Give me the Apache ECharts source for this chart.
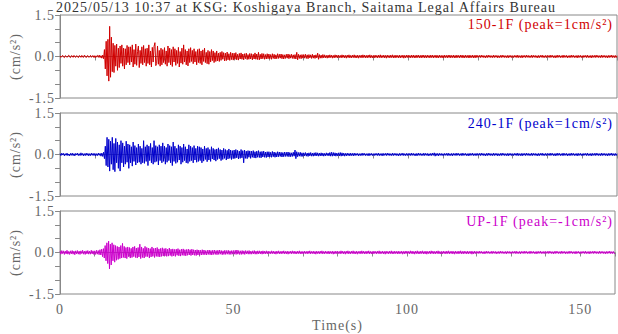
<!DOCTYPE html>
<html>
<head>
<meta charset="utf-8">
<script src="https://cdn.jsdelivr.net/npm/echarts@6/dist/echarts.min.js"></script>
<style>
  html, body { margin: 0; padding: 0; background: #fff; }
  #chart { width: 618px; height: 334px; }
  #chart svg text { letter-spacing: 1px; }
</style>
</head>
<body>
<div id="chart"></div>
<script>
// sample spacing of the traces (s), one row = 10 s
const dt = 0.25;

const accel150 = [
  0.02,-0.03,0.01,0.04,-0.02,-0.04,0.03,0.01,-0.03,0.02,0.05,-0.02,-0.04,0.03,0.02,-0.03,0.04,-0.01,-0.03,0.03,0.01,-0.04,0.03,0.02,-0.03,0.04,-0.02,-0.03,0.05,0.01,-0.04,0.02,0.03,-0.03,-0.01,0.04,-0.03,0.02,0.03,-0.04,
  0.03,-0.04,0.02,0.04,-0.03,0.05,-0.04,0.03,-0.06,0.05,-0.08,0.25,-0.45,0.55,-0.70,0.62,-0.89,1.09,-0.75,0.70,-0.55,0.48,-0.58,0.40,-0.35,0.45,-0.50,0.30,-0.40,0.38,-0.25,0.42,-0.35,0.30,-0.45,0.28,-0.30,0.40,-0.22,0.35,
  -0.30,0.35,-0.20,0.42,-0.38,0.25,-0.28,0.45,-0.32,0.18,0.38,-0.40,0.22,-0.25,0.35,-0.30,0.40,-0.22,0.28,-0.35,0.30,-0.25,0.42,-0.30,0.20,-0.38,0.33,-0.20,0.36,0.50,-0.33,-0.25,0.38,-0.28,0.22,-0.35,0.30,-0.30,0.25,-0.22,
  0.32,-0.28,0.20,-0.35,0.38,-0.22,0.30,-0.30,0.25,-0.36,0.35,-0.20,0.28,-0.32,0.22,-0.25,0.33,-0.38,0.18,-0.24,0.30,-0.28,0.42,-0.20,0.25,-0.30,0.20,-0.34,0.28,-0.22,0.32,-0.18,0.22,-0.26,0.28,-0.20,0.18,-0.30,0.25,-0.22,
  0.28,-0.25,0.20,-0.30,0.24,-0.18,0.30,-0.22,0.15,-0.26,0.22,-0.28,0.18,-0.20,0.25,-0.15,0.20,-0.22,0.14,-0.18,0.20,-0.16,0.12,-0.18,0.15,-0.14,0.18,-0.10,0.14,-0.16,0.12,-0.15,0.16,-0.12,0.10,-0.14,0.15,-0.11,0.12,-0.13,
  0.12,-0.10,0.14,-0.12,0.08,-0.13,0.11,-0.09,0.13,-0.10,0.09,-0.12,0.10,-0.08,0.12,-0.11,0.07,-0.10,0.11,-0.09,0.10,-0.12,0.08,-0.09,0.13,-0.10,0.09,-0.11,0.15,-0.12,0.08,-0.09,0.11,-0.08,0.10,-0.10,0.07,-0.09,0.10,-0.08,
  0.09,-0.08,0.07,-0.10,0.10,-0.07,0.08,-0.09,0.06,-0.08,0.10,-0.07,0.08,-0.06,0.09,-0.08,0.07,-0.09,0.06,-0.07,0.08,-0.06,0.09,-0.08,0.07,-0.06,0.08,-0.07,0.06,-0.08,0.07,-0.09,0.15,-0.12,0.08,-0.07,0.06,-0.08,0.07,-0.06,
  0.07,-0.06,0.08,-0.07,0.06,-0.08,0.07,-0.05,0.06,-0.07,0.08,-0.06,0.05,-0.07,0.06,-0.05,0.12,-0.10,0.07,-0.06,0.05,-0.06,0.07,-0.05,0.06,-0.05,0.04,-0.06,0.05,-0.05,0.06,-0.04,0.05,-0.06,0.04,-0.05,0.06,-0.04,0.05,-0.05,
  0.05,-0.04,0.04,-0.05,0.06,-0.04,0.05,-0.05,0.04,-0.06,0.05,-0.04,0.06,-0.05,0.04,-0.05,0.05,-0.04,0.06,-0.05,0.04,-0.05,0.05,-0.06,0.04,-0.04,0.05,-0.05,0.06,-0.04,0.05,-0.05,0.04,-0.05,0.05,-0.04,0.06,-0.05,0.04,-0.05,
  0.04,-0.05,0.05,-0.04,0.04,-0.05,0.05,-0.04,0.06,-0.05,0.04,-0.04,0.05,-0.05,0.04,-0.06,0.05,-0.04,0.04,-0.05,0.05,-0.04,0.06,-0.05,0.04,-0.05,0.05,-0.04,0.04,-0.05,0.05,-0.05,0.04,-0.04,0.05,-0.06,0.04,-0.05,0.05,-0.04,
  0.05,-0.04,0.04,-0.05,0.05,-0.04,0.05,-0.05,0.04,-0.05,0.05,-0.04,0.05,-0.05,0.04,-0.05,0.05,-0.04,0.05,-0.05,0.04,-0.05,0.05,-0.04,0.04,-0.05,0.05,-0.04,0.05,-0.05,0.04,-0.04,0.05,-0.05,0.04,-0.05,0.05,-0.04,0.04,-0.05,
  0.04,-0.05,0.05,-0.04,0.04,-0.05,0.05,-0.04,0.05,-0.05,0.04,-0.04,0.05,-0.05,0.04,-0.05,0.05,-0.04,0.04,-0.05,0.05,-0.04,0.05,-0.05,0.04,-0.05,0.05,-0.04,0.04,-0.05,0.05,-0.05,0.04,-0.04,0.05,-0.05,0.04,-0.05,0.05,-0.04,
  0.04,-0.03,0.04,-0.04,0.05,-0.03,0.04,-0.04,0.03,-0.05,0.04,-0.04,0.05,-0.03,0.04,-0.04,0.03,-0.04,0.05,-0.04,0.04,-0.03,0.04,-0.05,0.03,-0.04,0.04,-0.04,0.05,-0.03,0.04,-0.04,0.03,-0.04,0.04,-0.05,0.04,-0.03,0.04,-0.04,
  0.03,-0.04,0.04,-0.03,0.04,-0.04,0.05,-0.04,0.03,-0.04,0.04,-0.05,0.04,-0.03,0.04,-0.04,0.05,-0.03,0.04,-0.04,0.03,-0.04,0.05,-0.04,0.04,-0.03,0.04,-0.04,0.03,-0.05,0.04,-0.04,0.04,-0.03,0.05,-0.04,0.03,-0.04,0.04,-0.04,
  0.04,-0.03,0.04,-0.04,0.05,-0.03,0.04,-0.04,0.03,-0.05,0.04,-0.04,0.05,-0.03,0.04,-0.04,0.03,-0.04,0.05,-0.04,0.04,-0.03,0.04,-0.05,0.03,-0.04,0.04,-0.04,0.05,-0.03,0.04,-0.04,0.03,-0.04,0.04,-0.05,0.04,-0.03,0.04,-0.04,
  0.03,-0.04,0.04,-0.03,0.04,-0.04,0.05,-0.04,0.03,-0.04,0.04,-0.05,0.04,-0.03,0.04,-0.04,0.05,-0.03,0.04,-0.04,0.03,-0.04,0.05,-0.04,0.04,-0.03,0.04,-0.04,0.03,-0.05,0.04,-0.04,0.04,-0.03,0.05,-0.04,0.03,-0.04,0.04,-0.04,
  0.03
];

const accel240 = [
  0.03,-0.04,0.05,-0.02,0.04,-0.05,0.03,-0.03,0.05,-0.04,0.02,-0.05,0.04,-0.03,0.05,-0.04,0.03,-0.05,0.04,-0.02,0.05,-0.04,0.03,-0.04,0.06,-0.03,0.04,-0.05,0.03,-0.04,0.05,-0.03,0.04,-0.05,0.03,-0.04,0.05,-0.03,0.04,-0.04,
  0.04,-0.05,0.03,-0.04,0.05,-0.03,0.04,-0.06,0.05,-0.07,0.08,-0.15,0.30,-0.40,0.62,-0.45,0.55,-0.60,0.48,-0.35,0.62,-0.55,0.40,-0.62,0.58,-0.30,0.45,-0.50,0.35,-0.60,0.50,-0.30,0.42,-0.45,0.30,-0.35,0.48,-0.28,0.38,-0.50,
  0.35,-0.30,0.28,-0.42,0.45,-0.25,0.32,-0.38,0.25,-0.30,0.38,-0.28,0.30,-0.35,0.22,-0.30,0.50,-0.32,0.28,-0.25,0.35,-0.40,0.30,-0.22,0.40,-0.30,0.25,-0.35,0.50,-0.28,0.32,-0.25,0.28,-0.38,0.35,-0.22,0.30,-0.30,0.42,-0.25,
  0.30,-0.35,0.25,-0.28,0.38,-0.22,0.32,-0.30,0.28,-0.40,0.45,-0.25,0.30,-0.32,0.22,-0.28,0.35,-0.20,0.30,-0.35,0.25,-0.28,0.38,-0.22,0.28,-0.30,0.20,-0.32,0.35,-0.25,0.30,-0.22,0.25,-0.30,0.32,-0.20,0.22,-0.28,0.30,-0.25,
  0.28,-0.22,0.25,-0.30,0.20,-0.24,0.30,-0.18,0.22,-0.26,0.25,-0.20,0.18,-0.25,0.28,-0.16,0.22,-0.20,0.18,-0.24,0.20,-0.18,0.24,-0.15,0.18,-0.22,0.16,-0.18,0.22,-0.14,0.18,-0.20,0.15,-0.16,0.20,-0.14,0.16,-0.18,0.14,-0.15,
  0.16,-0.14,0.18,-0.12,0.15,-0.16,0.12,-0.14,0.18,-0.12,0.14,-0.30,0.16,-0.14,0.12,-0.15,0.14,-0.10,0.13,-0.14,0.12,-0.10,0.14,-0.12,0.10,-0.13,0.12,-0.10,0.14,-0.11,0.10,-0.12,0.11,-0.09,0.12,-0.10,0.09,-0.11,0.10,-0.09,
  0.10,-0.09,0.08,-0.10,0.11,-0.08,0.09,-0.10,0.07,-0.09,0.10,-0.08,0.09,-0.07,0.08,-0.09,0.07,-0.08,0.09,-0.07,0.08,-0.07,0.09,-0.08,0.07,-0.08,0.06,-0.07,0.08,-0.06,0.16,-0.15,0.10,-0.08,0.07,-0.06,0.08,-0.07,0.06,-0.07,
  0.06,-0.05,0.07,-0.06,0.05,-0.07,0.06,-0.05,0.07,-0.06,0.05,-0.06,0.06,-0.05,0.07,-0.05,0.06,-0.06,0.05,-0.05,0.06,-0.05,0.05,-0.06,0.04,-0.05,0.06,-0.04,0.05,-0.05,0.07,-0.06,0.08,-0.06,0.07,-0.05,0.06,-0.06,0.05,-0.05,
  0.06,-0.05,0.07,-0.06,0.06,-0.05,0.05,-0.06,0.04,-0.05,0.05,-0.04,0.04,-0.05,0.05,-0.04,0.04,-0.05,0.05,-0.04,0.04,-0.03,0.04,-0.05,0.03,-0.04,0.04,-0.04,0.05,-0.03,0.04,-0.04,0.03,-0.04,0.04,-0.05,0.04,-0.03,0.04,-0.04,
  0.03,-0.04,0.04,-0.03,0.04,-0.04,0.05,-0.04,0.03,-0.04,0.04,-0.05,0.04,-0.03,0.04,-0.04,0.05,-0.03,0.04,-0.04,0.03,-0.04,0.05,-0.04,0.04,-0.03,0.04,-0.04,0.03,-0.05,0.04,-0.04,0.04,-0.03,0.05,-0.04,0.03,-0.04,0.04,-0.04,
  0.04,-0.03,0.04,-0.04,0.05,-0.03,0.04,-0.04,0.03,-0.05,0.04,-0.04,0.05,-0.03,0.04,-0.04,0.03,-0.04,0.05,-0.04,0.04,-0.03,0.04,-0.05,0.03,-0.04,0.04,-0.04,0.05,-0.03,0.06,-0.06,0.04,-0.04,0.04,-0.05,0.04,-0.03,0.04,-0.04,
  0.03,-0.04,0.04,-0.03,0.04,-0.04,0.05,-0.04,0.03,-0.04,0.04,-0.05,0.04,-0.03,0.04,-0.04,0.05,-0.03,0.04,-0.04,0.03,-0.04,0.05,-0.04,0.04,-0.03,0.04,-0.04,0.03,-0.05,0.04,-0.04,0.04,-0.03,0.05,-0.04,0.03,-0.04,0.04,-0.04,
  0.04,-0.03,0.04,-0.04,0.05,-0.03,0.04,-0.04,0.03,-0.05,0.04,-0.04,0.05,-0.03,0.04,-0.04,0.03,-0.04,0.05,-0.04,0.04,-0.03,0.04,-0.05,0.03,-0.04,0.04,-0.04,0.05,-0.03,0.04,-0.04,0.03,-0.04,0.04,-0.05,0.04,-0.03,0.04,-0.04,
  0.03,-0.04,0.04,-0.03,0.04,-0.04,0.05,-0.04,0.03,-0.04,0.04,-0.05,0.04,-0.03,0.04,-0.04,0.05,-0.03,0.04,-0.04,0.03,-0.04,0.05,-0.04,0.04,-0.03,0.04,-0.04,0.03,-0.05,0.04,-0.04,0.04,-0.03,0.05,-0.04,0.03,-0.04,0.04,-0.04,
  0.04,-0.03,0.04,-0.04,0.05,-0.03,0.04,-0.04,0.03,-0.05,0.04,-0.04,0.05,-0.03,0.04,-0.04,0.03,-0.04,0.05,-0.04,0.04,-0.03,0.04,-0.05,0.03,-0.04,0.04,-0.04,0.05,-0.03,0.04,-0.04,0.03,-0.04,0.04,-0.05,0.04,-0.03,0.04,-0.04,
  0.03,-0.04,0.04,-0.03,0.04,-0.04,0.05,-0.04,0.03,-0.04,0.04,-0.05,0.04,-0.03,0.04,-0.04,0.05,-0.03,0.04,-0.04,0.03,-0.04,0.05,-0.04,0.04,-0.03,0.04,-0.04,0.03,-0.05,0.04,-0.04,0.04,-0.03,0.05,-0.04,0.03,-0.04,0.04,-0.04,
  0.03
];

const accelUP = [
  0.05,-0.06,0.07,-0.04,0.06,-0.07,0.05,-0.05,0.08,-0.06,0.04,-0.07,0.06,-0.05,0.07,-0.06,0.05,-0.08,0.06,-0.05,0.07,-0.06,0.05,-0.07,0.06,-0.04,0.08,-0.06,0.05,-0.07,0.06,-0.05,0.07,-0.06,0.05,-0.06,0.08,-0.05,0.06,-0.07,
  0.06,-0.07,0.08,-0.06,0.07,-0.08,0.10,-0.09,0.12,-0.15,0.14,-0.20,0.25,-0.30,0.35,-0.40,0.41,-0.59,0.30,-0.45,0.35,-0.30,0.28,-0.35,0.25,-0.28,0.22,-0.25,0.20,-0.22,0.25,-0.20,0.33,-0.18,0.22,-0.20,0.18,-0.22,0.20,-0.15,
  0.18,-0.20,0.15,-0.18,0.20,-0.15,0.22,-0.18,0.16,-0.20,0.18,-0.16,0.30,-0.22,0.20,-0.18,0.15,-0.20,0.22,-0.15,0.18,-0.15,0.16,-0.20,0.14,-0.16,0.20,-0.14,0.15,-0.18,0.16,-0.14,0.18,-0.15,0.13,-0.16,0.15,-0.14,0.17,-0.13,
  0.14,-0.12,0.15,-0.14,0.12,-0.13,0.16,-0.11,0.12,-0.14,0.13,-0.12,0.11,-0.14,0.12,-0.10,0.14,-0.12,0.10,-0.13,0.12,-0.10,0.13,-0.11,0.10,-0.12,0.11,-0.10,0.12,-0.09,0.10,-0.11,0.12,-0.09,0.10,-0.10,0.09,-0.11,0.10,-0.09,
  0.09,-0.10,0.08,-0.09,0.10,-0.08,0.09,-0.08,0.07,-0.09,0.08,-0.07,0.09,-0.08,0.07,-0.09,0.08,-0.07,0.09,-0.07,0.07,-0.08,0.08,-0.07,0.09,-0.06,0.07,-0.08,0.06,-0.07,0.08,-0.07,0.07,-0.06,0.08,-0.07,0.06,-0.07,0.07,-0.06,
  0.07,-0.06,0.08,-0.07,0.09,-0.06,0.07,-0.07,0.06,-0.07,0.07,-0.06,0.06,-0.07,0.07,-0.05,0.06,-0.06,0.07,-0.06,0.05,-0.06,0.06,-0.05,0.07,-0.06,0.05,-0.06,0.06,-0.05,0.06,-0.05,0.05,-0.06,0.06,-0.05,0.05,-0.05,0.06,-0.05,
  0.05,-0.04,0.04,-0.05,0.06,-0.04,0.05,-0.05,0.04,-0.06,0.05,-0.04,0.06,-0.05,0.04,-0.05,0.05,-0.04,0.06,-0.05,0.04,-0.05,0.05,-0.06,0.04,-0.04,0.05,-0.05,0.06,-0.04,0.05,-0.05,0.04,-0.05,0.05,-0.04,0.06,-0.05,0.04,-0.05,
  0.04,-0.05,0.05,-0.04,0.04,-0.05,0.05,-0.04,0.06,-0.05,0.04,-0.04,0.05,-0.05,0.04,-0.06,0.05,-0.04,0.04,-0.05,0.05,-0.04,0.06,-0.05,0.04,-0.05,0.05,-0.04,0.04,-0.05,0.05,-0.05,0.04,-0.04,0.05,-0.06,0.04,-0.05,0.05,-0.04,
  0.05,-0.04,0.04,-0.05,0.06,-0.04,0.05,-0.05,0.04,-0.06,0.05,-0.04,0.06,-0.05,0.04,-0.05,0.05,-0.04,0.06,-0.05,0.04,-0.05,0.05,-0.06,0.04,-0.04,0.05,-0.05,0.06,-0.04,0.05,-0.05,0.04,-0.05,0.05,-0.04,0.06,-0.05,0.04,-0.05,
  0.04,-0.05,0.05,-0.04,0.04,-0.05,0.05,-0.04,0.06,-0.05,0.04,-0.04,0.05,-0.05,0.04,-0.06,0.05,-0.04,0.04,-0.05,0.05,-0.04,0.06,-0.05,0.04,-0.05,0.05,-0.04,0.04,-0.05,0.05,-0.05,0.04,-0.04,0.05,-0.06,0.04,-0.05,0.05,-0.04,
  0.05,-0.04,0.04,-0.05,0.06,-0.04,0.05,-0.05,0.04,-0.06,0.05,-0.04,0.06,-0.05,0.04,-0.05,0.05,-0.04,0.06,-0.05,0.04,-0.05,0.05,-0.06,0.04,-0.04,0.05,-0.05,0.06,-0.04,0.05,-0.05,0.04,-0.05,0.05,-0.04,0.06,-0.05,0.04,-0.05,
  0.04,-0.05,0.05,-0.04,0.04,-0.05,0.05,-0.04,0.06,-0.05,0.04,-0.04,0.05,-0.05,0.04,-0.06,0.05,-0.04,0.04,-0.05,0.05,-0.04,0.06,-0.05,0.04,-0.05,0.05,-0.04,0.04,-0.05,0.05,-0.05,0.04,-0.04,0.05,-0.06,0.04,-0.05,0.05,-0.04,
  0.04,-0.03,0.04,-0.04,0.05,-0.03,0.04,-0.04,0.03,-0.05,0.04,-0.04,0.05,-0.03,0.04,-0.04,0.03,-0.04,0.05,-0.04,0.04,-0.03,0.04,-0.05,0.03,-0.04,0.04,-0.04,0.05,-0.03,0.04,-0.04,0.03,-0.04,0.04,-0.05,0.04,-0.03,0.04,-0.04,
  0.03,-0.04,0.04,-0.03,0.04,-0.04,0.05,-0.04,0.03,-0.04,0.04,-0.05,0.04,-0.03,0.04,-0.04,0.05,-0.03,0.04,-0.04,0.03,-0.04,0.05,-0.04,0.04,-0.03,0.04,-0.04,0.03,-0.05,0.04,-0.04,0.04,-0.03,0.05,-0.04,0.03,-0.04,0.04,-0.04,
  0.04,-0.03,0.04,-0.04,0.05,-0.03,0.04,-0.04,0.03,-0.05,0.04,-0.04,0.05,-0.03,0.04,-0.04,0.03,-0.04,0.05,-0.04,0.04,-0.03,0.04,-0.05,0.03,-0.04,0.04,-0.04,0.05,-0.03,0.04,-0.04,0.03,-0.04,0.04,-0.05,0.04,-0.03,0.04,-0.04,
  0.03,-0.04,0.04,-0.03,0.04,-0.04,0.05,-0.04,0.03,-0.04,0.04,-0.05,0.04,-0.03,0.04,-0.04,0.05,-0.03,0.04,-0.04,0.03,-0.04,0.05,-0.04,0.04,-0.03,0.04,-0.04,0.03,-0.05,0.04,-0.04,0.04,-0.03,0.05,-0.04,0.03,-0.04,0.04,-0.04,
  -0.03
];

const traces = [accel150, accel240, accelUP];
const channels = ['150-1F', '240-1F', 'UP-1F'];
const peaks = ['1', '1', '-1'];
const colors = ['#d00000', '#0000cc', '#cc00cc'];
const xLabelTicks = [0, 50, 100, 150];
const yLabelTicks = [-1.5, 0, 1.5];

const serif = 'Liberation Serif';
const gridTops = [15, 113, 211];
const labelMids = [24, 123, 221];

const chart = echarts.init(document.getElementById('chart'), null, { renderer: 'svg' });

const option = {
  animation: false,
  title: {
    text: '2025/05/13 10:37 at KSG: Koshigaya Branch, Saitama Legal Affairs Bureau',
    left: 56,
    top: 0,
    padding: 0,
    textStyle: { fontFamily: serif, fontSize: 14, fontWeight: 'normal', color: '#333' }
  },
  grid: gridTops.map(top => ({
    left: 55, right: 1, top: top, height: 83,
    show: true, borderColor: '#888', borderWidth: 1, backgroundColor: '#fff'
  })),
  xAxis: traces.map((_, i) => ({
    gridIndex: i,
    type: 'value',
    min: 0,
    max: 160,
    interval: 10,
    axisLine: { show: true, lineStyle: { color: '#888' } },
    axisTick: { show: true, length: 4, lineStyle: { color: '#888' } },
    axisLabel: {
      show: i === 2,
      margin: 8,
      color: '#666',
      fontFamily: serif,
      fontSize: 14,
      formatter: v => (xLabelTicks.includes(v) ? String(v) : '')
    },
    splitLine: { show: false },
    name: i === 2 ? 'Time(s)' : '',
    nameLocation: 'middle',
    nameGap: 24,
    nameTextStyle: { color: '#666', fontFamily: serif, fontSize: 14 }
  })),
  yAxis: traces.map((_, i) => ({
    gridIndex: i,
    type: 'value',
    min: -1.5,
    max: 1.5,
    interval: 0.5,
    axisLine: { show: true, lineStyle: { color: '#888' } },
    axisTick: { show: true, length: 5, lineStyle: { color: '#888' } },
    axisLabel: {
      margin: 5,
      color: '#666',
      fontFamily: serif,
      fontSize: 14,
      formatter: v => (yLabelTicks.includes(v) ? v.toFixed(1) : '')
    },
    splitLine: { show: false },
    name: '(cm/s²)',
    nameLocation: 'middle',
    nameGap: 38,
    nameTextStyle: { color: '#666', fontFamily: serif, fontSize: 14 }
  })),
  graphic: traces.map((_, i) => ({
    type: 'text',
    x: 613,
    y: labelMids[i],
    style: {
      text: channels[i] + ' (peak=' + peaks[i] + 'cm/s²)',
      fill: colors[i],
      font: '14px "Liberation Serif"',
      align: 'right',
      verticalAlign: 'middle',
      textAlign: 'right',
      textVerticalAlign: 'middle'
    }
  })),
  series: traces.map((arr, i) => ({
    type: 'line',
    xAxisIndex: i,
    yAxisIndex: i,
    data: arr.map((v, k) => [k * dt, v]),
    symbol: 'none',
    sampling: 'none',
    lineStyle: { width: 1, color: colors[i] },
    z: 3
  }))
};

chart.setOption(option);
</script>
</body>
</html>
